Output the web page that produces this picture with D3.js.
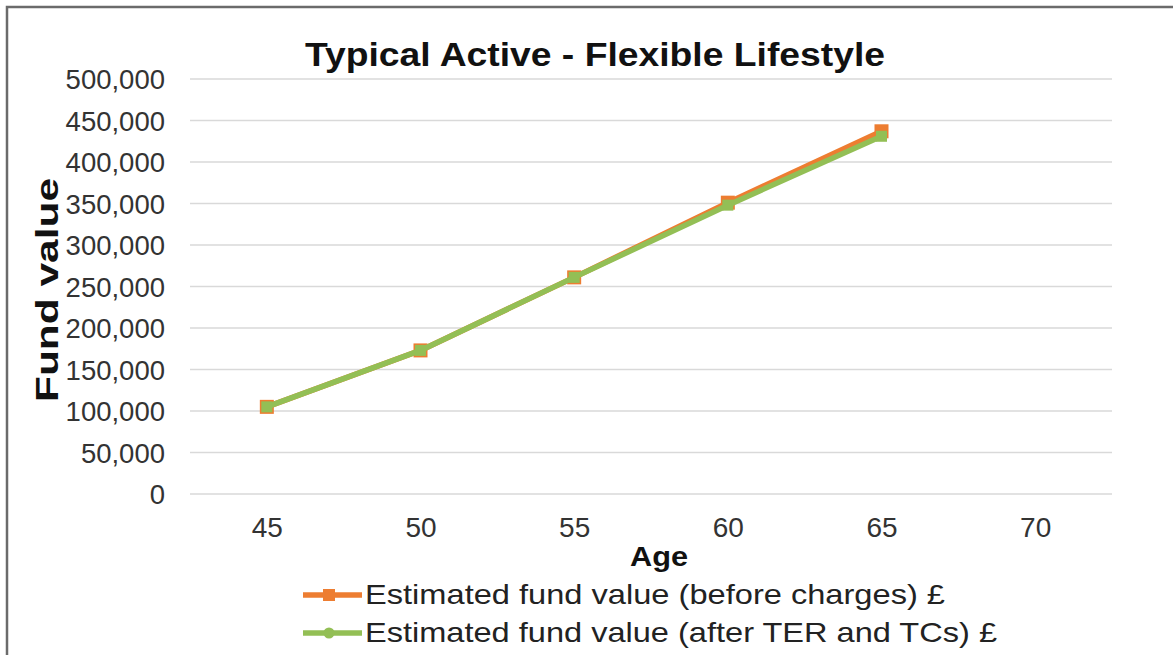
<!DOCTYPE html>
<html>
<head>
<meta charset="utf-8">
<script src="https://cdn.jsdelivr.net/npm/d3@7"></script>
<style>
  html, body { margin: 0; padding: 0; background: #fff; }
  svg { display: block; font-family: "Liberation Sans", Arial, sans-serif; }
</style>
</head>
<body>
<svg id="chart" width="1173" height="655"></svg>
<script>
// Projected fund values by age
const ages = ["45", "50", "55", "60", "65", "70"];
const beforeCharges = [105000, 173000, 261000, 351000, 437000];
const afterCharges = [105000, 173000, 261000, 348000, 431000];
const yTicks = [0, 50000, 100000, 150000, 200000, 250000, 300000, 350000, 400000, 450000, 500000];
const seriesNames = [
  "Estimated fund value (before charges) £",
  "Estimated fund value (after TER and TCs) £"
];
const seriesColors = ["#ED7D31", "#93BF55"];

const svg = d3.select("#chart");
const W = 1173, H = 655;
const plot = { left: 190, right: 1112, top: 79, bottom: 494 };

// outer frame (left and top edges visible)
svg.append("path")
  .attr("d", `M7,${H} L7,7 L${W},7`)
  .attr("fill", "none")
  .attr("stroke", "#6b6b6b")
  .attr("stroke-width", 2.5);

const x = d3.scalePoint().domain(ages).range([plot.left, plot.right]).padding(0.5);
const y = d3.scaleLinear().domain([0, 500000]).range([plot.bottom, plot.top]);

// gridlines
svg.append("g")
  .selectAll("line")
  .data(yTicks)
  .join("line")
  .attr("x1", plot.left).attr("x2", plot.right)
  .attr("y1", d => y(d)).attr("y2", d => y(d))
  .attr("stroke", "#d9d9d9")
  .attr("stroke-width", 1.5);

// y axis labels
const fmt = d3.format(",");
const yAxis = svg.append("g")
  .attr("transform", `translate(${plot.left - 25},0)`)
  .call(d3.axisLeft(y).tickValues(yTicks).tickFormat(fmt).tickSize(0).tickPadding(0));
yAxis.select(".domain").remove();
yAxis.selectAll("text")
  .attr("font-size", 27.5)
  .attr("fill", "#333")
  .attr("dy", "0.36em")
  .attr("font-family", "Liberation Sans, Arial, sans-serif");

// x axis labels
const xAxis = svg.append("g")
  .attr("transform", `translate(0,${plot.bottom + 23})`)
  .call(d3.axisBottom(x).tickSize(0).tickPadding(0));
xAxis.select(".domain").remove();
xAxis.selectAll("text")
  .attr("font-size", 28)
  .attr("fill", "#333")
  .attr("font-family", "Liberation Sans, Arial, sans-serif");

// title
svg.append("text")
  .attr("x", 595).attr("y", 66)
  .attr("text-anchor", "middle")
  .attr("font-size", 33)
  .attr("font-weight", "bold")
  .attr("fill", "#111")
  .attr("textLength", 580)
  .attr("lengthAdjust", "spacingAndGlyphs")
  .text("Typical Active - Flexible Lifestyle");

// axis titles
svg.append("text")
  .attr("x", 659).attr("y", 566)
  .attr("text-anchor", "middle")
  .attr("font-size", 28)
  .attr("font-weight", "bold")
  .attr("fill", "#111")
  .attr("textLength", 58)
  .attr("lengthAdjust", "spacingAndGlyphs")
  .text("Age");

svg.append("text")
  .attr("transform", `translate(58,290) rotate(-90)`)
  .attr("text-anchor", "middle")
  .attr("font-size", 31)
  .attr("font-weight", "bold")
  .attr("fill", "#111")
  .attr("textLength", 224)
  .attr("lengthAdjust", "spacingAndGlyphs")
  .text("Fund value");

// series
const series = [beforeCharges, afterCharges];
const line = d3.line().x((d, i) => x(ages[i])).y(d => y(d));

series.forEach((vals, s) => {
  const g = svg.append("g");
  g.append("path")
    .datum(vals)
    .attr("d", line)
    .attr("fill", "none")
    .attr("stroke", seriesColors[s])
    .attr("stroke-width", 5.5)
    .attr("stroke-linejoin", "round");
  const ms = s === 0 ? 14 : 11;
  g.selectAll("rect")
    .data(vals)
    .join("rect")
    .attr("x", (d, i) => x(ages[i]) - ms / 2)
    .attr("y", d => y(d) - ms / 2)
    .attr("width", ms).attr("height", ms)
    .attr("fill", seriesColors[s]);
});

// legend
const legendLengths = [580, 632];
const legend = svg.append("g");
seriesNames.forEach((name, i) => {
  const ly = 595 + i * 38;
  const row = legend.append("g");
  row.append("line")
    .attr("x1", 303).attr("x2", 362)
    .attr("y1", ly).attr("y2", ly)
    .attr("stroke", seriesColors[i])
    .attr("stroke-width", 5.5);
  if (i === 0) {
    row.append("rect")
      .attr("x", 329 - 6).attr("y", ly - 6)
      .attr("width", 12).attr("height", 12)
      .attr("fill", seriesColors[i]);
  } else {
    row.append("circle")
      .attr("cx", 329).attr("cy", ly).attr("r", 5.5)
      .attr("fill", seriesColors[i]);
  }
  row.append("text")
    .attr("x", 365).attr("y", ly + 8 + 1)
    .attr("font-size", 28)
    .attr("fill", "#222")
    .attr("textLength", legendLengths[i])
    .attr("lengthAdjust", "spacingAndGlyphs")
    .text(name);
});
</script>
</body>
</html>
